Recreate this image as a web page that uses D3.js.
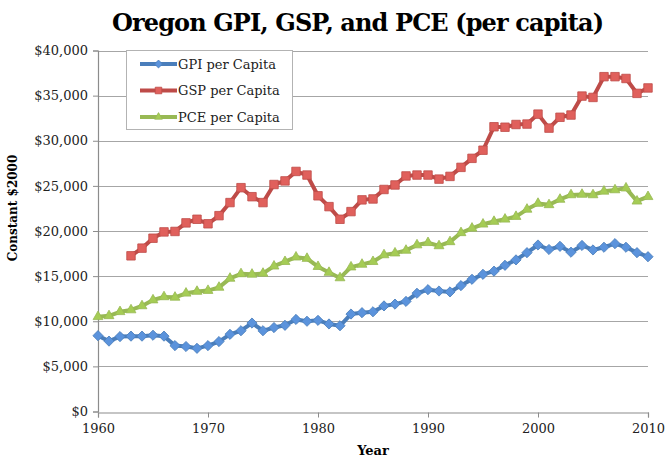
<!DOCTYPE html>
<html>
<head>
<meta charset="utf-8">
<script src="https://cdn.jsdelivr.net/npm/d3@7/dist/d3.min.js"></script>
<style>
  body { margin: 0; background: #fff; }
  svg { display: block; }
</style>
</head>
<body>
<div id="chart"></div>
<script>
// years on the x axis
const years = d3.range(1960, 2011);

// GPI per capita, 1960-2010
const gpi = [8400, 7800, 8300, 8350, 8350, 8450, 8350, 7300, 7200, 7000,
  7300, 7750, 8550, 8950, 9800, 8950, 9300, 9550, 10200, 10000,
  10100, 9700, 9500, 10800, 10950, 11050, 11700, 11900, 12200, 13100,
  13500, 13350, 13250, 13950, 14650, 15200, 15550, 16200, 16800, 17600,
  18450, 17950, 18300, 17650, 18400, 17900, 18200, 18600, 18200, 17600, 17150];

// GSP per capita, starts in 1963
const gspYears = d3.range(1963, 2011);
const gsp = [17250, 18100, 19200, 19900, 19950, 20900, 21300, 20800, 21700, 23150,
  24800, 23800, 23150, 25150, 25550, 26600, 26200, 23900, 22700, 21300,
  22150, 23450, 23550, 24600, 25100, 26100, 26200, 26200, 25750, 26050,
  27050, 28050, 28950, 31550, 31500, 31800, 31850, 32950, 31400, 32600,
  32850, 34950, 34800, 37100, 37100, 36900, 35250, 35850];

// PCE per capita, 1960-2010
const pce = [10500, 10600, 11050, 11250, 11700, 12350, 12700, 12650, 13100, 13300,
  13400, 13750, 14750, 15250, 15200, 15300, 16100, 16600, 17100, 16950,
  16050, 15400, 14800, 16000, 16300, 16600, 17350, 17550, 17850, 18450,
  18700, 18350, 18800, 19800, 20300, 20750, 21050, 21300, 21600, 22400,
  23050, 22900, 23500, 24000, 24050, 24000, 24400, 24550, 24750, 23300, 23800];

const yTicks = d3.range(0, 40001, 5000);
const xTicks = [1960, 1970, 1980, 1990, 2000, 2010];

const width = 667, height = 459;
const margin = { top: 50.5, right: 19, bottom: 47.5, left: 98 };

const svg = d3.select("#chart").append("svg")
    .attr("width", width)
    .attr("height", height);

const x = d3.scaleLinear()
    .domain([1960, 2010])
    .range([margin.left, width - margin.right]);

const y = d3.scaleLinear()
    .domain([0, 40000])
    .range([height - margin.bottom, margin.top]);

// title
svg.append("text")
    .attr("x", 358)
    .attr("y", 31)
    .attr("text-anchor", "middle")
    .style("font-family", "DejaVu Serif")
    .style("font-weight", "bold")
    .style("font-size", "24px")
    .attr("textLength", 492)
    .text("Oregon GPI, GSP, and PCE (per capita)");

// grid lines
svg.append("g")
    .selectAll("line")
    .data(yTicks.filter(d => d > 0))
    .join("line")
    .attr("x1", margin.left)
    .attr("x2", width - margin.right)
    .attr("y1", d => Math.round(y(d)) + 0.5)
    .attr("y2", d => Math.round(y(d)) + 0.5)
    .attr("stroke", "#a6a6a6")
    .attr("stroke-width", 1.2);

// axes
const yAxis = svg.append("g")
    .attr("transform", `translate(${margin.left},0)`)
    .call(d3.axisLeft(y).tickValues(yTicks).tickSize(5).tickFormat(d => "$" + d3.format(",")(d)));

const xAxis = svg.append("g")
    .attr("transform", `translate(0,${Math.round(y(0)) + 0.5})`)
    .call(d3.axisBottom(x).tickValues(xTicks).tickSize(5).tickFormat(d3.format("d")));

[yAxis, xAxis].forEach(function (ax) {
    ax.select(".domain").attr("stroke", "#8c8c8c").attr("stroke-width", 1.2);
    ax.selectAll(".tick line").attr("stroke", "#8c8c8c");
    ax.selectAll("text")
        .style("font-family", "DejaVu Serif")
        .style("font-size", "13px")
        .attr("fill", "#222");
});
yAxis.selectAll("text").attr("x", -10);
xAxis.selectAll("text").attr("y", 11);

// axis titles
svg.append("text")
    .attr("transform", "translate(17,208) rotate(-90)")
    .attr("text-anchor", "middle")
    .style("font-family", "DejaVu Serif")
    .style("font-weight", "bold")
    .style("font-size", "12px")
    .text("Constant $2000");

svg.append("text")
    .attr("x", 373)
    .attr("y", 455)
    .attr("text-anchor", "middle")
    .style("font-family", "DejaVu Serif")
    .style("font-weight", "bold")
    .style("font-size", "13px")
    .text("Year");

// series
const series = [
    { name: "GPI per Capita", xs: years, ys: gpi, line: "#4a7ebb", fill: "#5b93dc", shape: d3.symbolSquare, size: 52, rot: 45 },
    { name: "GSP per Capita", xs: gspYears, ys: gsp, line: "#be4b48", fill: "#e0605c", shape: d3.symbolSquare, size: 72, rot: 0 },
    { name: "PCE per Capita", xs: years, ys: pce, line: "#98b954", fill: "#a5cc55", shape: d3.symbolTriangle, size: 42, rot: 0 }
];

const lineGen = d3.line()
    .x(d => x(d[0]))
    .y(d => y(d[1]));

series.forEach(function (s) {
    const pts = s.xs.map((yr, i) => [yr, s.ys[i]]);
    const g = svg.append("g");

    g.append("path")
        .datum(pts)
        .attr("fill", "none")
        .attr("stroke", s.line)
        .attr("stroke-width", 4)
        .attr("stroke-linejoin", "round")
        .attr("d", lineGen);

    g.selectAll("path.mark")
        .data(pts)
        .join("path")
        .attr("class", "mark")
        .attr("transform", d => `translate(${x(d[0])},${y(d[1])}) rotate(${s.rot})`)
        .attr("d", d3.symbol().type(s.shape).size(s.size))
        .attr("fill", s.fill)
        .attr("stroke", s.line)
        .attr("stroke-width", 0.8);
});

// legend
const legend = svg.append("g");

legend.append("rect")
    .attr("x", 126.5)
    .attr("y", 50.5)
    .attr("width", 166)
    .attr("height", 79)
    .attr("fill", "#fff")
    .attr("stroke", "#b3b3b3");

series.forEach(function (s, i) {
    const ly = 64 + i * 26.5;
    legend.append("line")
        .attr("x1", 140)
        .attr("x2", 177)
        .attr("y1", ly)
        .attr("y2", ly)
        .attr("stroke", s.line)
        .attr("stroke-width", 4);
    legend.append("path")
        .attr("transform", `translate(158.5,${ly}) rotate(${s.rot})`)
        .attr("d", d3.symbol().type(s.shape).size(s.size * 0.6))
        .attr("fill", s.fill)
        .attr("stroke", s.line)
        .attr("stroke-width", 0.8);
    legend.append("text")
        .attr("x", 178)
        .attr("y", ly + 4.5)
        .style("font-family", "DejaVu Serif")
        .style("font-size", "13px")
        .attr("fill", "#222")
        .text(s.name);
});
</script>
</body>
</html>
